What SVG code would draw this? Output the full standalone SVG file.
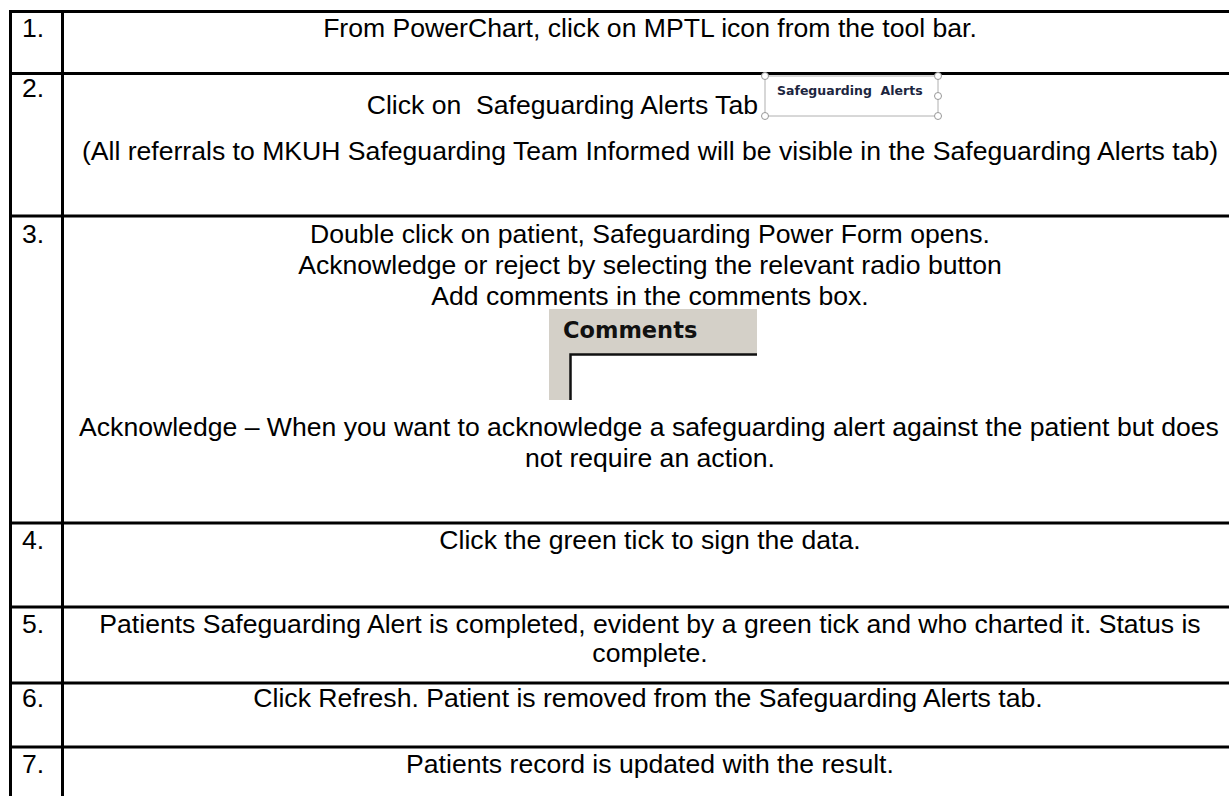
<svg xmlns="http://www.w3.org/2000/svg" width="1229" height="796" viewBox="0 0 1229 796">
<style>
.t{font-family:"Liberation Sans",Arial,sans-serif;font-size:26.6px;fill:#000}
.c{text-anchor:middle}
.g{stroke:#000;stroke-width:3;fill:none}
.h{fill:#fff;stroke:#999;stroke-width:1}
</style>
<rect width="1229" height="796" fill="#fff"/>
<g id="grid">
<line class="g" x1="9" y1="11.5" x2="1229" y2="11.5"/>
<line class="g" x1="9" y1="73.5" x2="1229" y2="73.5"/>
<line class="g" x1="9" y1="216" x2="1229" y2="216"/>
<line class="g" x1="9" y1="523" x2="1229" y2="523"/>
<line class="g" x1="9" y1="607" x2="1229" y2="607"/>
<line class="g" x1="9" y1="683" x2="1229" y2="683"/>
<line class="g" x1="9" y1="747" x2="1229" y2="747"/>
<line class="g" x1="10.5" y1="10" x2="10.5" y2="796"/>
<line class="g" x1="62.5" y1="10" x2="62.5" y2="796"/>
</g>
<g id="row1">
<text class="t" x="22" y="37">1.</text>
<text class="t c" x="650" y="37">From PowerChart, click on MPTL icon from the tool bar.</text>
</g>
<g id="row2">
<text class="t" x="22" y="97">2.</text>
<text class="t" x="758" y="114" text-anchor="end" xml:space="preserve">Click on  Safeguarding Alerts Tab</text>
<g id="tabimg">
<rect x="765" y="76" width="173" height="40" fill="#fff" stroke="#b0b0b0" stroke-width="1"/>
<text x="777" y="95" font-family="'DejaVu Sans',Tahoma,Verdana,sans-serif" font-size="12.5" font-weight="bold" fill="#1c2640" xml:space="preserve">Safeguarding  Alerts</text>
<circle class="h" cx="765" cy="76" r="3.5"/>
<circle class="h" cx="938" cy="76" r="3.5"/>
<circle class="h" cx="938" cy="96" r="3.5"/>
<circle class="h" cx="765" cy="116" r="3.5"/>
<circle class="h" cx="938" cy="116" r="3.5"/>
</g>
<text class="t c" x="650" y="160">(All referrals to MKUH Safeguarding Team Informed will be visible in the Safeguarding Alerts tab)</text>
</g>
<g id="row3">
<text class="t" x="22" y="243">3.</text>
<text class="t c" x="650" y="243">Double click on patient, Safeguarding Power Form opens.</text>
<text class="t c" x="650" y="274">Acknowledge or reject by selecting the relevant radio button</text>
<text class="t c" x="650" y="305">Add comments in the comments box.</text>
<g id="commentsimg">
<rect x="549" y="309" width="208" height="91" fill="#d4d0c8"/>
<text x="563" y="338" font-family="'DejaVu Sans',Tahoma,Verdana,sans-serif" font-size="22.5" font-weight="bold" fill="#111">Comments</text>
<rect x="570" y="354" width="187" height="46" fill="#fff"/>
<path d="M570.5 400 V354.5 H757" fill="none" stroke="#111" stroke-width="2.5"/>
</g>
<text class="t c" x="649" y="436">Acknowledge – When you want to acknowledge a safeguarding alert against the patient but does</text>
<text class="t c" x="650" y="467">not require an action.</text>
</g>
<g id="row4">
<text class="t" x="22" y="549">4.</text>
<text class="t c" x="650" y="549">Click the green tick to sign the data.</text>
</g>
<g id="row5">
<text class="t" x="22" y="633">5.</text>
<text class="t c" x="650" y="633">Patients Safeguarding Alert is completed, evident by a green tick and who charted it. Status is</text>
<text class="t c" x="650" y="662">complete.</text>
</g>
<g id="row6">
<text class="t" x="22" y="707">6.</text>
<text class="t c" x="648" y="707">Click Refresh. Patient is removed from the Safeguarding Alerts tab.</text>
</g>
<g id="row7">
<text class="t" x="22" y="773">7.</text>
<text class="t c" x="650" y="773">Patients record is updated with the result.</text>
</g>
</svg>
